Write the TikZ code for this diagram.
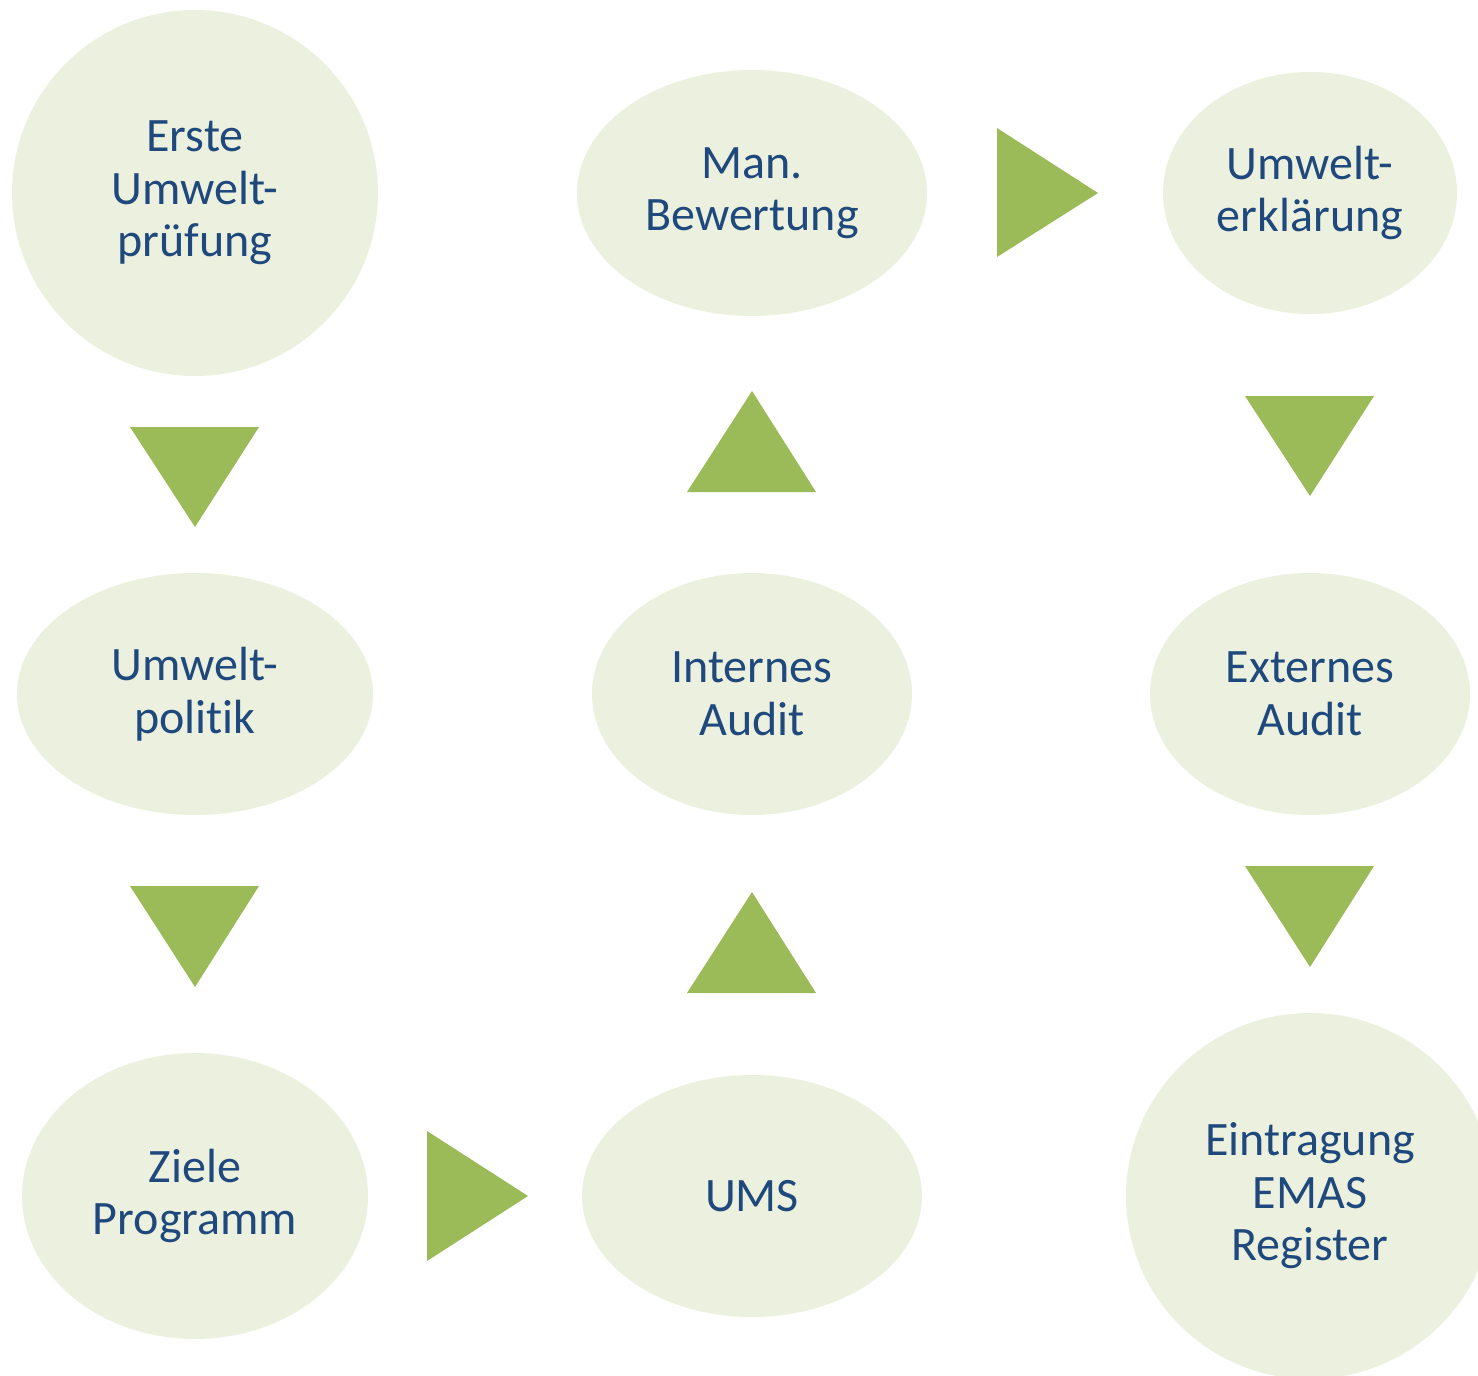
\documentclass[tikz,border=0pt]{standalone}
\usepackage{fontspec}
\setmainfont[Ligatures=NoCommon]{Carlito}
\usetikzlibrary{shapes.geometric}
\definecolor{ellfill}{HTML}{EBF1DE}
\definecolor{trifill}{HTML}{9BBB59}
\definecolor{txt}{HTML}{1F497D}
\begin{document}
\begin{tikzpicture}[x=1pt,y=-1pt,
  stage/.style={ellipse, fill=ellfill, draw=none, inner sep=0pt, text=txt, align=center,
    font=\fontsize{48}{52.5}\selectfont},
  tri/.style={fill=trifill, draw=none}]
\clip (0,0) rectangle (1478,1376);
\useasboundingbox (0,0) rectangle (1478,1376);
% stages
\node[stage, minimum width=366pt, minimum height=366pt] (s1) at (195,193) {Erste\\Umwelt-\\prüfung};
\node[stage, minimum width=356pt, minimum height=242pt] (s2) at (195,694) {Umwelt-\\politik};
\node[stage, minimum width=346pt, minimum height=286pt] (s3) at (195,1196) {Ziele\\Programm};
\node[stage, minimum width=340pt, minimum height=242pt] (s4) at (752,1196) {UMS};
\node[stage, minimum width=320pt, minimum height=242pt] (s5) at (752,694) {Internes\\Audit};
\node[stage, minimum width=350pt, minimum height=246pt] (s6) at (752,193) {Man.\\Bewertung};
\node[stage, minimum width=294pt, minimum height=242pt] (s7) at (1310,193) {Umwelt-\\erklärung};
\node[stage, minimum width=320pt, minimum height=242pt] (s8) at (1310,694) {Externes\\Audit};
\node[stage, minimum width=368pt, minimum height=366pt] (s9) at (1310,1196) {Eintragung\\EMAS\\Register};
% arrows (triangles)
\fill[tri] (130,427) -- (259,427) -- (195,527) -- cycle;
\fill[tri] (130,886) -- (259,886) -- (195,987) -- cycle;
\fill[tri] (427,1131) -- (528,1196) -- (427,1261) -- cycle;
\fill[tri] (687,993) -- (816,993) -- (752,892) -- cycle;
\fill[tri] (687,492) -- (816,492) -- (752,391) -- cycle;
\fill[tri] (997,128) -- (1098,193) -- (997,257) -- cycle;
\fill[tri] (1245,396) -- (1374,396) -- (1310,496) -- cycle;
\fill[tri] (1245,866) -- (1374,866) -- (1310,967) -- cycle;
\end{tikzpicture}
\end{document}
